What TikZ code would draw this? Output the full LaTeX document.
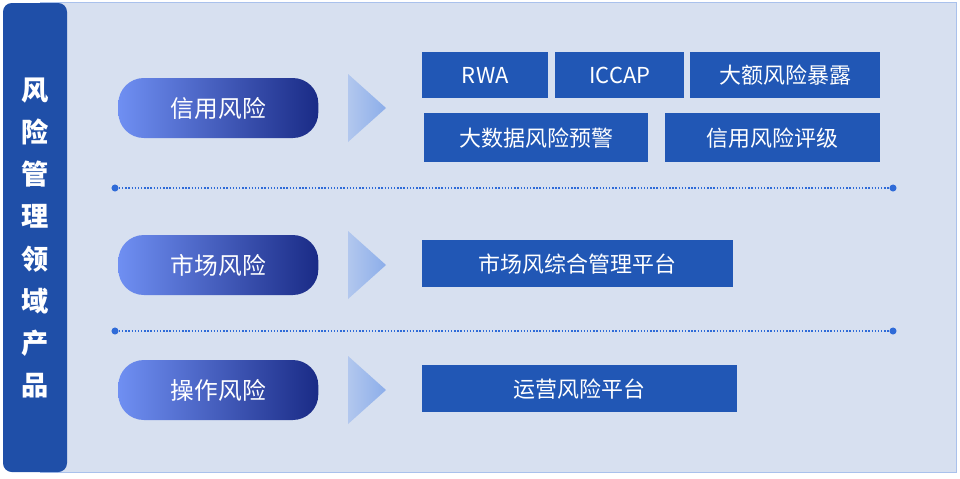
\documentclass[tikz,border=0pt]{standalone}
\usepackage{fontspec}
\newfontfamily\cjk{Noto Sans CJK SC}
\usetikzlibrary{positioning}
\definecolor{bgblue}{HTML}{D7E0F0}
\definecolor{edgeblue}{HTML}{A9C1EC}
\definecolor{barblue}{HTML}{1F4FA8}
\definecolor{boxblue}{HTML}{2157B5}
\definecolor{pilllight}{HTML}{6F8FF2}
\definecolor{pilldark}{HTML}{1A2B86}
\definecolor{dotblue}{HTML}{2F6BD8}
\tikzset{
  prodbox/.style={fill=boxblue,text=white,font=\cjk\fontsize{12.5}{14}\selectfont,inner sep=0pt,anchor=north west},
  riskpill/.style={rounded corners=14.5pt,left color=pilllight,right color=pilldark,text=white,font=\cjk\fontsize{13.5}{15}\selectfont,minimum width=4cm,minimum height=1.2cm,inner sep=0pt,anchor=west},
  sepline/.style={dotblue,densely dotted,thick},
  sepdot/.style={circle,fill=dotblue,inner sep=0pt,minimum size=4pt}
}
\begin{document}
\begin{tikzpicture}[x=0.02cm,y=-0.02cm]
\useasboundingbox (0,0) rectangle (960,478);
\fill[bgblue,draw=edgeblue] (40,2) rectangle (956,472);
\fill[barblue,rounded corners=5pt] (3,3) rectangle (67,472);
\node[text=white,font=\cjk\bfseries\fontsize{15.5}{24}\selectfont,align=center] (title) at (35,238)
  {风\\险\\管\\理\\领\\域\\产\\品};
% risk pills and arrows
\foreach \y/\txt/\nm in {108/信用风险/credit,265/市场风险/market,390/操作风险/oper}{
  \node[riskpill] (\nm) at (118,\y) {\txt};
  \shade[left color=edgeblue!90!white,right color=dotblue!55] (348,\y-34) -- (386,\y) -- (348,\y+34) -- cycle;
}
% product boxes
\node[prodbox,minimum width=2.52cm,minimum height=0.92cm] (rwa) at (422,52) {RWA};
\node[prodbox,minimum width=2.58cm,minimum height=0.92cm] (iccap) at (555,52) {ICCAP};
\node[prodbox,minimum width=3.8cm,minimum height=0.92cm] (large) at (690,52) {大额风险暴露};
\node[prodbox,minimum width=4.48cm,minimum height=0.98cm] (bigdata) at (424,113) {大数据风险预警};
\node[prodbox,minimum width=4.3cm,minimum height=0.98cm] (rating) at (665,113) {信用风险评级};
\node[prodbox,minimum width=6.22cm,minimum height=0.94cm] (mkt) at (422,240) {市场风综合管理平台};
\node[prodbox,minimum width=6.3cm,minimum height=0.94cm] (ops) at (422,365) {运营风险平台};
% separators
\foreach \y/\nm in {188/a,331/b}{
  \node[sepdot] (l\nm) at (115,\y) {};
  \node[sepdot] (r\nm) at (893,\y) {};
  \draw[sepline] (l\nm) -- (r\nm);
}
\end{tikzpicture}
\end{document}
